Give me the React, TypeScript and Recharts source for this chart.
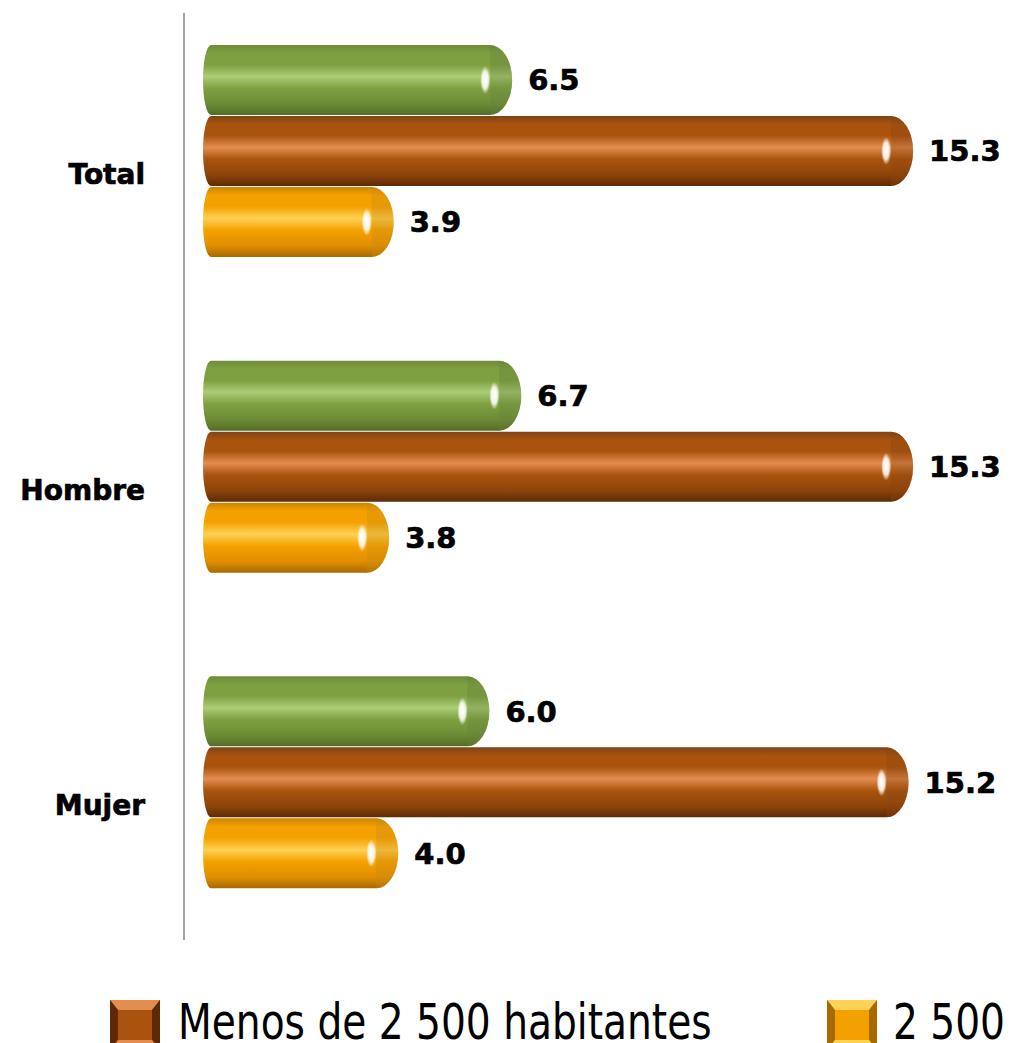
import { BarChart, Bar, XAxis, YAxis, Legend, LabelList } from 'recharts';

const categories = ['Total', 'Hombre', 'Mujer'];
const seriesNames = ['Total', 'Menos de 2 500 habitantes', '2 500'];
const totalValues = [6.5, 6.7, 6.0];
const menosValues = [15.3, 15.3, 15.2];
const masValues = [3.9, 3.8, 4.0];

const data = categories.map((name, i) => ({
  name,
  total: totalValues[i],
  menos: menosValues[i],
  mas: masValues[i],
}));

const LABEL_FONT = '"DejaVu Sans", Verdana, sans-serif';
const LEGEND_FONT = '"Liberation Sans Narrow", "DejaVu Sans Condensed", sans-serif';

// cylinder colours: top edge, highlight band, body, lower body, bottom edge, cap tint
const palette: Record<string, string[]> = {
  total: ['#6e8c38', '#accd76', '#7ea040', '#6c8c35', '#526d28', '#66803c'],
  menos: ['#7e4418', '#e48d50', '#a9530f', '#8d440a', '#5e2a05', '#8a4512'],
  mas: ['#cc8600', '#ffd154', '#f4a100', '#e08e00', '#a86a00', '#c98a10'],
};

const cylinder = (key: string) => (props: any) => {
  const { x, y, width, height } = props;
  if (width <= 0) return null;
  const x0 = x - 13;
  const xe = x + width;
  const rc = 22;
  const r = 8;
  const hh = height / 2;
  const body = `M${x0 + r},${y} L${xe - rc},${y} A${rc},${hh} 0 0 1 ${xe - rc},${y + height} L${x0 + r},${y + height} A${r},${hh} 0 0 1 ${x0 + r},${y} Z`;
  const cap = `M${xe - rc},${y} A${rc},${hh} 0 0 1 ${xe - rc},${y + height} Z`;
  return (
    <g>
      <path d={body} fill={`url(#cyl-${key})`} />
      <path d={cap} fill={palette[key][5]} opacity={0.35} />
      <ellipse cx={xe - 27} cy={y + hh} rx={5} ry={14} fill="url(#shine)" />
    </g>
  );
};

const CategoryTick = ({ x, y, payload }: any) => (
  <text x={x} y={y} dy={33} textAnchor="end" fontFamily={LABEL_FONT} fontWeight="bold" fontSize={28} fill="#000" stroke="#000" strokeWidth={0.7}>
    {payload.value}
  </text>
);

const LegendIcon = ({ x, y, c }: { x: number; y: number; c: string[] }) => (
  <g>
    <rect x={x} y={y} width={50} height={50} fill={c[2]} />
    <polygon points={`${x},${y} ${x + 50},${y} ${x + 42},${y + 10} ${x + 8},${y + 10}`} fill={c[1]} />
    <polygon points={`${x},${y} ${x + 8},${y + 10} ${x + 8},${y + 40} ${x},${y + 50}`} fill={c[4]} />
    <polygon points={`${x + 50},${y} ${x + 42},${y + 10} ${x + 42},${y + 40} ${x + 50},${y + 50}`} fill={c[4]} />
    <polygon points={`${x},${y + 50} ${x + 8},${y + 40} ${x + 42},${y + 40} ${x + 50},${y + 50}`} fill={c[1]} />
  </g>
);

const legendSlots = [
  { key: 'menos', icon: 110, text: 178 },
  { key: 'mas', icon: 827, text: 893 },
];

const renderLegend = (props: any) => {
  const payload = props.payload || [];
  return (
    <svg width={1010} height={48} style={{ display: 'block' }}>
      {legendSlots.map((slot) => {
        const item = payload.find((p: any) => p.dataKey === slot.key);
        if (!item) return null;
        return (
          <g key={slot.key}>
            <LegendIcon x={slot.icon} y={5} c={palette[slot.key]} />
            <text transform={`translate(${slot.text},44) scale(0.87,1)`} fontFamily={LEGEND_FONT} fontSize={50} fill="#000">
              {item.value}
            </text>
          </g>
        );
      })}
    </svg>
  );
};

const labelProps = {
  position: 'right' as const,
  offset: 16,
  formatter: (v: any) => Number(v).toFixed(1),
  fill: '#000',
  stroke: '#000',
  strokeWidth: 0.7,
  fontFamily: LABEL_FONT,
  fontWeight: 'bold',
  fontSize: 29,
};

export default function App() {
  return (
    <div style={{ position: 'absolute', left: 0, top: 0, width: 1010, height: 1043, background: '#fff' }}>
      <BarChart
        width={1010}
        height={1043}
        data={data}
        layout="vertical"
        margin={{ top: 13, right: 65, bottom: 55, left: 0 }}
        barSize={70}
        barGap={1}
      >
        <defs>
          {Object.keys(palette).map((k) => (
            <linearGradient key={k} id={`cyl-${k}`} x1="0" y1="0" x2="0" y2="1">
              <stop offset="0%" stopColor={palette[k][0]} />
              <stop offset="12%" stopColor={palette[k][2]} />
              <stop offset="28%" stopColor={palette[k][2]} />
              <stop offset="45%" stopColor={palette[k][1]} />
              <stop offset="62%" stopColor={palette[k][2]} />
              <stop offset="84%" stopColor={palette[k][3]} />
              <stop offset="100%" stopColor={palette[k][4]} />
            </linearGradient>
          ))}
          <radialGradient id="shine" cx="50%" cy="50%" r="50%">
            <stop offset="0%" stopColor="#ffffff" stopOpacity={1} />
            <stop offset="60%" stopColor="#ffffff" stopOpacity={0.85} />
            <stop offset="100%" stopColor="#ffffff" stopOpacity={0} />
          </radialGradient>
        </defs>
        <XAxis type="number" domain={[0, 16]} hide padding={{ left: 32, right: 0 }} />
        <YAxis
          type="category"
          dataKey="name"
          width={184}
          padding={{ top: -20, bottom: 0 }}
          axisLine={{ stroke: '#a3a3a3', strokeWidth: 2 }}
          tickLine={false}
          tickSize={0}
          tickMargin={39}
          tick={<CategoryTick />}
        />
        <Legend verticalAlign="bottom" height={48} content={renderLegend} wrapperStyle={{ top: 995, bottom: 'auto', left: 0 }} />
        <Bar dataKey="total" name={seriesNames[0]} fill="#7ea040" shape={cylinder('total')} isAnimationActive={false}>
          <LabelList dataKey="total" {...labelProps} />
        </Bar>
        <Bar dataKey="menos" name={seriesNames[1]} fill="#a9530f" shape={cylinder('menos')} isAnimationActive={false}>
          <LabelList dataKey="menos" {...labelProps} />
        </Bar>
        <Bar dataKey="mas" name={seriesNames[2]} fill="#f4a100" shape={cylinder('mas')} isAnimationActive={false}>
          <LabelList dataKey="mas" {...labelProps} />
        </Bar>
      </BarChart>
    </div>
  );
}
